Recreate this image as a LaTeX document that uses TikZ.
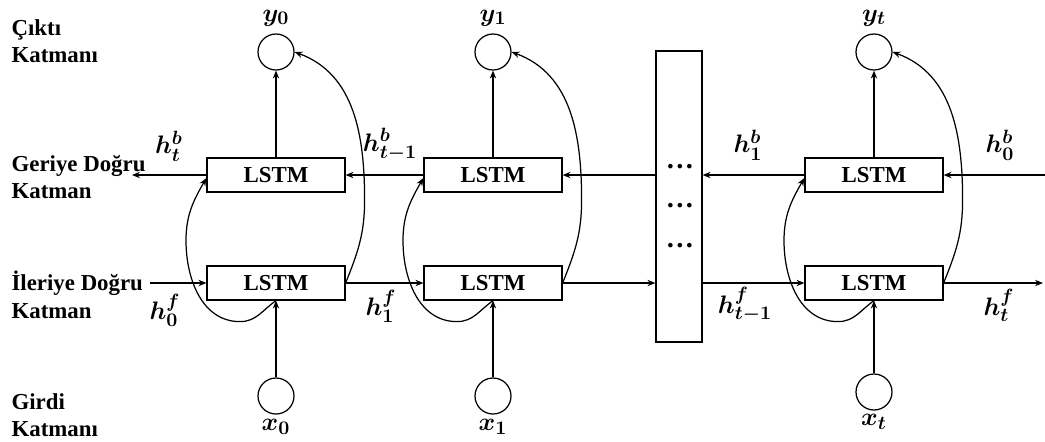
\documentclass[tikz,border=0pt]{standalone}
\usepackage{fontspec}
\setmainfont{Liberation Serif}
\usetikzlibrary{arrows.meta,calc}
\begin{document}
\begin{tikzpicture}[x=0.02cm,y=0.02cm, line width=0.7pt,
  font=\fontsize{13}{15.6}\selectfont\bfseries\boldmath,
  lstm/.style={draw, minimum width=2.76cm, minimum height=0.68cm, inner sep=0},
  unit/.style={draw, circle, minimum size=0.72cm, inner sep=0},
  arr/.style={-{Stealth[length=4.5pt,width=3.6pt]}},
  lbl/.style={inner sep=0, font=\fontsize{15}{17}\selectfont\bfseries\boldmath},
  dots/.style={inner sep=0, anchor=base, font=\fontsize{16}{18}\selectfont\bfseries},
  layer/.style={align=left, anchor=west, inner sep=0}]
\useasboundingbox (0,0) rectangle (1045,-441);

% layer labels
\node[layer] (lout) at (11,-41) {Çıktı\\Katmanı};
\node[layer] (lback) at (11,-177) {Geriye Doğru\\Katman};
\node[layer] (lfwd) at (11,-295) {İleriye Doğru\\Katman};
\node[layer] (lin) at (11,-415) {Girdi\\Katmanı};

% LSTM boxes
\node[lstm] (b1) at (276,-175) {LSTM};
\node[lstm] (b2) at (493,-175) {LSTM};
\node[lstm] (b3) at (874,-175) {LSTM};
\node[lstm] (f1) at (276,-283) {LSTM};
\node[lstm] (f2) at (493,-283) {LSTM};
\node[lstm] (f3) at (874,-283) {LSTM};

% middle block
\node[draw, minimum width=0.92cm, minimum height=5.82cm, inner sep=0] (mid) at (679,-196.5) {};
\node[dots] (d1) at (680,-168) {…};
\node[dots] (d2) at (680,-207) {…};
\node[dots] (d3) at (680,-247) {…};

% output / input units
\node[unit] (y0) at (276,-52) {};
\node[unit] (y1) at (493,-52) {};
\node[unit] (yt) at (874,-52) {};
\node[unit] (x0) at (276,-396) {};
\node[unit] (x1) at (493,-396) {};
\node[unit] (xt) at (874,-392) {};

\node[lbl] (ly0) at (276,-18) {$y_0$};
\node[lbl] (ly1) at (493,-18) {$y_1$};
\node[lbl] (lyt) at (874,-18) {$y_t$};
\node[lbl] (lx0) at (276,-427) {$x_0$};
\node[lbl] (lx1) at (493,-427) {$x_1$};
\node[lbl] (lxt) at (874,-422) {$x_t$};

% state labels
\node[lbl] (hb1) at (169,-146) {$h^{b}_{t}$};
\node[lbl] (hb2) at (390,-145) {$h^{b}_{t-1}$};
\node[lbl] (hb3) at (748,-145) {$h^{b}_{1}$};
\node[lbl] (hb4) at (1000,-145) {$h^{b}_{0}$};
\node[lbl] (hf1) at (165,-310) {$h^{f}_{0}$};
\node[lbl] (hf2) at (381,-306) {$h^{f}_{1}$};
\node[lbl] (hf3) at (745,-305) {$h^{f}_{t-1}$};
\node[lbl] (hf4) at (999,-305) {$h^{f}_{t}$};

% free ends
\coordinate (hbout) at (132,-175);
\coordinate (hbin) at (1045,-175);
\coordinate (hfin) at (150,-283);
\coordinate (hfout) at (1043,-283);

% backward chain
\draw[arr] (b1.west) -- (hbout);
\draw[arr] (b2.west) -- (b1.east);
\draw[arr] (mid.west |- b2.east) -- (b2.east);
\draw[arr] (b3.west) -- (mid.east |- b3.west);
\draw[arr] (hbin) -- (b3.east);

% forward chain
\draw[arr] (hfin) -- (f1.west);
\draw[arr] (f1.east) -- (f2.west);
\draw[arr] (f2.east) -- (mid.west |- f2.east);
\draw[arr] (mid.east |- f3.west) -- (f3.west);
\draw[arr] (f3.east) -- (hfout);

% vertical
\foreach \b/\y/\x/\f in {b1/y0/x0/f1, b2/y1/x1/f2, b3/yt/xt/f3}{
  \draw[arr] (\b.north) -- (\y.south);
  \draw[arr] (\x.north) -- (\f.south);
  % input loop into backward LSTM
  \draw[arr] (\f.south) to[out=215,in=0] ($(\f.south)+(-36,-21)$)
     to[out=180,in=270] ($(\f.south)+(-90,60)$)
     to[out=90,in=240] ($(\b.west)+(0,-3)$);
  % forward output to output unit
  \draw[arr] (\f.east) to[out=68,in=270] ($(\f.east)+(19,83)$)
     to[out=90,in=340] (\y.east);
}
\end{tikzpicture}
\end{document}
